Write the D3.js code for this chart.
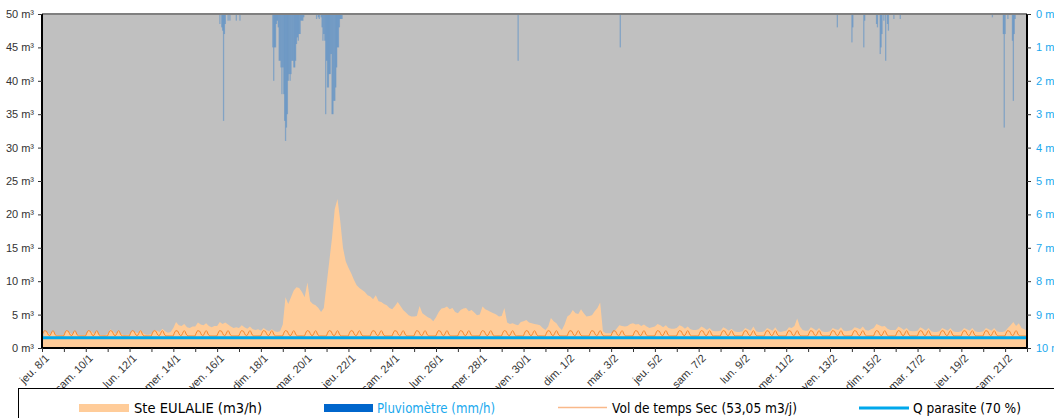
<!DOCTYPE html>
<html>
<head>
<meta charset="utf-8">
<script src="https://d3js.org/d3.v7.min.js"></script>
<style>
	body { margin: 0; background: #fff; }
	svg { display: block; }
</style>
</head>
<body>
<div id="chart"></div>
<script>
// ---- data ----
var dayNames = ["dim.", "lun.", "mar.", "mer.", "jeu.", "ven.", "sam."];
var leftTicks = [0, 5, 10, 15, 20, 25, 30, 35, 40, 45, 50];
var rightTicks = [0, 1, 2, 3, 4, 5, 6, 7, 8, 9, 10];

var periodStart = "2015-01-08 00:00";
var periodEnd = "2015-02-22 00:00";

// Ste EULALIE flow, m3/h, one value every 3 hours (0h,3h,...,21h) from 8/1
var flowStepHours = 3;
var flow = [
	0.0, 2.6, 2.3, 2.0, 2.6, 2.0, 1.9, 1.9,   // 8/1
	2.0, 2.7, 2.4, 2.0, 2.5, 2.0, 1.9, 1.9,
	2.0, 2.6, 2.5, 2.1, 2.6, 2.0, 1.9, 1.9,   // 10/1
	2.1, 2.8, 2.5, 2.1, 2.6, 2.1, 1.9, 2.0,
	2.0, 2.6, 2.4, 2.2, 2.7, 2.2, 2.0, 2.0,   // 12/1
	2.1, 2.7, 2.6, 2.4, 2.9, 2.5, 2.3, 2.4,
	3.0, 3.9, 3.4, 3.3, 3.6, 3.1, 3.0, 3.2,   // 14/1
	3.2, 3.8, 3.5, 3.4, 3.7, 3.3, 3.1, 3.3,
	3.3, 3.9, 3.6, 3.8, 3.5, 3.2, 3.0, 3.1,   // 16/1
	3.0, 3.4, 3.1, 2.9, 3.2, 2.8, 2.7, 2.8,
	2.6, 3.0, 2.7, 2.5, 2.8, 2.5, 2.4, 2.5,   // 18/1
	3.5, 7.6, 6.6, 7.6, 8.6, 9.1, 9.0, 8.4,
	7.6, 9.8, 7.0, 6.6, 6.4, 6.0, 5.4, 6.0,   // 20/1
	9.5, 13.0, 16.5, 20.8, 22.3, 19.0, 15.0, 13.0,
	12.0, 11.2, 10.2, 9.4, 9.0, 8.7, 8.4, 7.9, // 22/1
	7.7, 7.3, 7.9, 7.0, 6.9, 6.6, 6.4, 6.0,
	5.8, 6.3, 6.9, 6.3, 5.7, 5.3, 4.9, 4.7,   // 24/1
	4.7, 4.8, 6.3, 5.2, 4.9, 4.6, 4.4, 4.0,
	4.6, 5.4, 5.9, 6.0, 6.2, 5.8, 6.0, 5.4,   // 26/1
	5.2, 5.7, 5.9, 6.0, 5.5, 5.7, 5.3, 4.9,
	5.0, 6.2, 5.8, 5.6, 5.4, 5.2, 5.0, 4.7,   // 28/1
	4.8, 6.0, 3.8, 3.6, 3.7, 3.5, 3.4, 3.9,
	4.0, 4.2, 3.8, 3.7, 3.6, 3.5, 3.4, 3.0,   // 30/1
	2.7, 3.2, 4.5, 4.0, 3.7, 3.1, 2.7, 3.5,
	4.7, 5.0, 5.7, 5.2, 5.1, 5.8, 5.2, 4.7,   // 1/2
	4.8, 4.9, 5.5, 6.0, 6.8, 2.5, 2.2, 2.2,
	2.2, 2.4, 2.9, 3.4, 3.3, 3.2, 3.3, 3.6,   // 3/2
	3.7, 3.5, 3.6, 3.3, 3.5, 3.2, 3.0, 3.1,
	3.2, 3.6, 3.4, 3.1, 3.4, 3.0, 2.9, 2.9,   // 5/2
	3.0, 3.4, 3.2, 2.9, 3.2, 2.8, 2.7, 2.7,
	2.8, 3.2, 3.0, 2.7, 3.0, 2.6, 2.5, 2.5,   // 7/2
	2.6, 3.1, 2.9, 2.6, 2.9, 2.5, 2.4, 2.4,
	2.5, 3.0, 2.8, 2.6, 3.2, 2.5, 2.4, 2.4,   // 9/2
	2.5, 3.0, 2.8, 2.6, 3.1, 2.5, 2.4, 2.5,
	2.6, 3.1, 3.0, 3.3, 4.4, 3.2, 2.7, 2.6,   // 11/2
	2.6, 3.1, 2.9, 2.6, 3.0, 2.5, 2.4, 2.4,
	2.5, 3.0, 2.8, 2.7, 3.1, 2.6, 2.5, 2.6,   // 13/2
	2.7, 3.1, 3.0, 2.8, 3.2, 2.7, 2.6, 2.8,
	3.0, 3.6, 3.4, 3.2, 3.3, 2.9, 2.7, 2.7,   // 15/2
	2.7, 3.2, 3.0, 2.7, 3.0, 2.6, 2.5, 2.5,
	2.6, 3.1, 2.9, 2.6, 3.0, 2.5, 2.4, 2.4,   // 17/2
	2.5, 3.0, 2.8, 2.6, 3.0, 2.5, 2.4, 2.4,
	2.5, 3.0, 2.8, 2.6, 3.0, 2.5, 2.4, 2.4,   // 19/2
	2.5, 3.0, 2.8, 2.6, 3.0, 2.5, 2.4, 2.4,
	2.5, 3.0, 3.4, 3.9, 3.3, 3.7, 3.0, 2.8,   // 21/2
	2.6
];

// dry weather day profile (53,05 m3/j), m3/h for hours 0..23
var dryProfile = [1.85, 2.2, 2.5, 2.6, 2.55, 2.5, 2.2, 1.95, 1.85, 1.9, 2.15, 2.45,
                  2.6, 2.45, 2.1, 1.9, 1.8, 1.8, 1.8, 1.8, 1.8, 1.8, 1.8, 1.8];

// parasitic flow (70 % of dry weather mean)
var qParasite = 1.55;

// rain gauge, mm/h : [start hour, consecutive hourly values]
var rain = [
	["2015-01-16 03:00", [0.3, 0, 0.4, 0.5, 3.2, 0.6, 0.3, 0, 0, 0.2, 0, 0.2]],
	["2015-01-16 21:00", [0.2, 0, 0, 0, 0.2]],
	["2015-01-18 13:00", [1.0, 2.0, 1.0, 1.0, 0.3, 0.2, 0.4, 1.4, 1.4, 1.6, 2.4, 1.6, 2.4, 3.2, 3.8, 3.4, 3.0, 2.0,
	                      1.8, 2.0, 1.8, 1.4, 1.4, 1.6, 1.6, 1.4, 0.9, 0.7, 0.8, 0.6, 0.6, 0.2, 0.2, 0.2, 0.1]],
	["2015-01-20 13:00", [0.15, 0, 0.1, 0.15, 0, 0.1, 0.4, 0.8, 0.6, 0.8, 3.0, 1.4, 2.2, 2.2, 1.8, 1.8, 1.2, 3.0,
	                      3.0, 2.6, 2.6, 2.2, 1.6, 1.0, 1.0, 0.4, 0.15, 0.15, 0.15]],
	["2015-01-29 18:00", [1.4]],
	["2015-02-03 10:00", [1.0]],
	["2015-02-13 08:00", [0.4]],
	["2015-02-14 00:00", [0.85, 0.4]],
	["2015-02-14 13:00", [1.0, 0.2]],
	["2015-02-15 03:00", [0.3, 0.4, 0, 0, 1.2, 1.0, 0.6, 0, 0.2, 0, 1.4, 0, 0.3, 0.5]],
	["2015-02-15 22:00", [0.15]],
	["2015-02-16 05:00", [0.15]],
	["2015-02-20 10:00", [0.1]],
	["2015-02-20 22:00", [0.6, 3.4, 0.6, 0, 0, 0.15, 0, 0, 0, 0, 0.8, 2.6, 0.6, 0.15]]
];

var legendLabels = ["Ste EULALIE (m3/h)", "Pluviomètre (mm/h)", "Vol de temps Sec (53,05 m3/j)", "Q parasite (70 %)"];

// ---- chart ----
var width = 1054, height = 418;
var plot = { left: 42, right: 1027, top: 14, bottom: 348 };

var parse = d3.timeParse("%Y-%m-%d %H:%M");
var t0 = parse(periodStart), t1 = parse(periodEnd);

var x = d3.scaleTime().domain([t0, t1]).range([plot.left, plot.right]);
var yFlow = d3.scaleLinear().domain([0, 50]).range([plot.bottom, plot.top]);
var yRain = d3.scaleLinear().domain([0, 10]).range([plot.top, plot.bottom]);

var flowPts = flow.map(function(v, i) { return { t: d3.timeHour.offset(t0, i * flowStepHours), v: v }; });

var dryPts = d3.timeHours(t0, d3.timeHour.offset(t1, 1)).map(function(t) {
	return { t: t, v: dryProfile[t.getHours()] };
});

var rainPts = [];
rain.forEach(function(ev) {
	var s = parse(ev[0]);
	ev[1].forEach(function(v, i) {
		if (v > 0) rainPts.push({ t: d3.timeHour.offset(s, i), v: v });
	});
});

var svg = d3.select("#chart").append("svg")
	.attr("width", width)
	.attr("height", height);

svg.append("rect")
	.attr("x", plot.left).attr("y", plot.top)
	.attr("width", plot.right - plot.left).attr("height", plot.bottom - plot.top)
	.attr("fill", "#c0c0c0");

var area = d3.area()
	.x(function(d) { return x(d.t); })
	.y0(yFlow(0))
	.y1(function(d) { return yFlow(d.v); });

svg.append("path")
	.datum(flowPts)
	.attr("d", area)
	.attr("fill", "#ffcc99");

svg.append("path")
	.datum(dryPts)
	.attr("d", d3.line().x(function(d) { return x(d.t); }).y(function(d) { return yFlow(d.v); }))
	.attr("fill", "none")
	.attr("stroke", "#f7862a")
	.attr("stroke-width", 1);

svg.append("line")
	.attr("x1", x(t0)).attr("x2", x(t1))
	.attr("y1", yFlow(qParasite)).attr("y2", yFlow(qParasite))
	.attr("stroke", "#00a8ec")
	.attr("stroke-width", 3);

svg.append("g")
	.selectAll("rect")
	.data(rainPts)
	.enter().append("rect")
	.attr("x", function(d) { return x(d.t) - 0.6; })
	.attr("y", yRain(0))
	.attr("width", 1.3)
	.attr("height", function(d) { return yRain(d.v) - yRain(0); })
	.attr("fill", "#0066cc")
	.attr("fill-opacity", 0.32);

// top border
svg.append("line")
	.attr("x1", plot.left).attr("x2", plot.right)
	.attr("y1", plot.top).attr("y2", plot.top)
	.attr("stroke", "#808080").attr("stroke-width", 2);

// axes
var leftAxis = svg.append("g")
	.attr("transform", "translate(" + plot.left + ",0)")
	.call(d3.axisLeft(yFlow).tickValues(leftTicks).tickSize(4).tickPadding(4)
		.tickFormat(function(d) { return d + " m³"; }));

var rightAxis = svg.append("g")
	.attr("transform", "translate(" + plot.right + ",0)")
	.call(d3.axisRight(yRain).tickValues(rightTicks).tickSize(4).tickPadding(5)
		.tickFormat(function(d) { return d + " mm"; }));

var bottomAxis = svg.append("g")
	.attr("transform", "translate(0," + plot.bottom + ")")
	.call(d3.axisBottom(x).ticks(d3.timeDay.every(1)).tickSize(4)
		.tickFormat(function(d, i) {
			if (i % 2) return "";
			return dayNames[d.getDay()] + " " + d.getDate() + "/" + (d.getMonth() + 1);
		}));

bottomAxis.selectAll("text")
	.attr("x", -2.5)
	.attr("y", 9)
	.attr("dy", "0.35em")
	.attr("transform", "rotate(-45)")
	.style("text-anchor", "end");

[leftAxis, rightAxis, bottomAxis].forEach(function(g) {
	g.select(".domain").attr("stroke", "#000").attr("stroke-width", 2);
	g.selectAll(".tick line").attr("stroke", "#333");
	g.selectAll("text").attr("font-family", "Liberation Sans, Arial, sans-serif").attr("font-size", 11);
});
leftAxis.selectAll("text").attr("fill", "#333");
bottomAxis.selectAll("text").attr("fill", "#333");
rightAxis.selectAll("text").attr("fill", "#1aa9ee");
rightAxis.select(".domain").attr("d", "M0," + plot.top + "V" + plot.bottom);
leftAxis.select(".domain").attr("d", "M0," + plot.top + "V" + plot.bottom);
bottomAxis.select(".domain").attr("d", "M" + plot.left + ",0H" + plot.right);

// legend
var legend = svg.append("g");
legend.append("rect")
	.attr("x", 18.5).attr("y", 388.5)
	.attr("width", 1100).attr("height", 100)
	.attr("fill", "#fff").attr("stroke", "#000");

legend.append("rect").attr("x", 79).attr("y", 404).attr("width", 50).attr("height", 8).attr("fill", "#ffcc99");
legend.append("rect").attr("x", 324).attr("y", 404).attr("width", 49).attr("height", 8).attr("fill", "#0066cc");
legend.append("line").attr("x1", 558).attr("x2", 607).attr("y1", 407.5).attr("y2", 407.5)
	.attr("stroke", "#f9b98a").attr("stroke-width", 1.5);
legend.append("line").attr("x1", 859).attr("x2", 909).attr("y1", 408).attr("y2", 408)
	.attr("stroke", "#00a8ec").attr("stroke-width", 3);

var legendPos = [[134, 128, "#000"], [377, 118, "#1aa9ee"], [612, 185, "#000"], [913, 108, "#000"]];
legend.selectAll("text")
	.data(legendLabels)
	.enter().append("text")
	.attr("x", function(d, i) { return legendPos[i][0]; })
	.attr("y", 413)
	.attr("textLength", function(d, i) { return legendPos[i][1]; })
	.attr("lengthAdjust", "spacingAndGlyphs")
	.attr("font-family", "Comic Sans MS, DejaVu Sans, sans-serif")
	.attr("font-size", 13.5)
	.attr("fill", function(d, i) { return legendPos[i][2]; })
	.text(function(d) { return d; });
</script>
</body>
</html>
